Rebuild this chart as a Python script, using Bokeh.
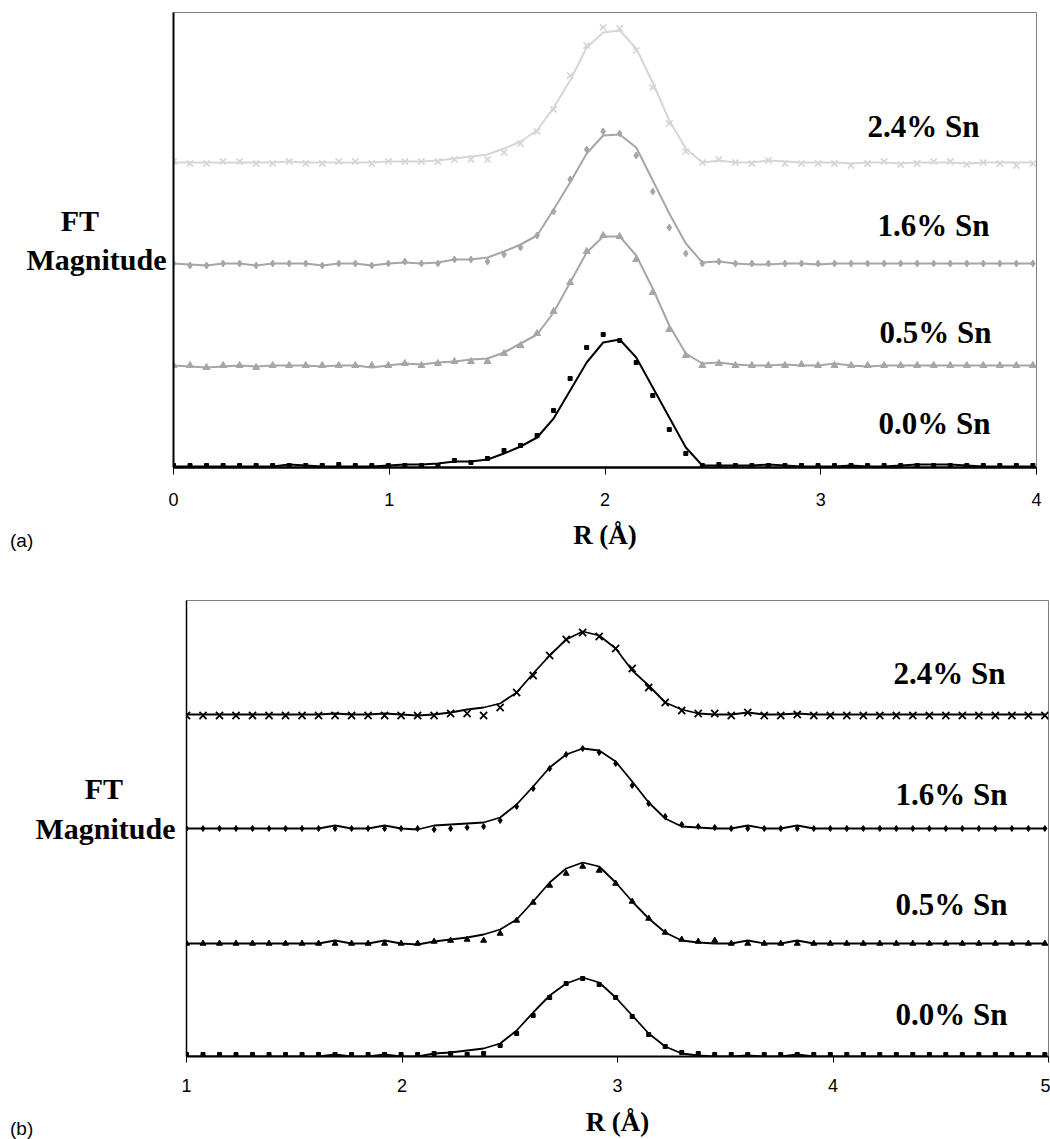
from bokeh.plotting import figure
from bokeh.models import Range1d, Label, Div
from bokeh.embed import file_html
from bokeh.resources import INLINE

# sample spacing (Å)
STEP = 0.0766
R_A = [round(STEP * i, 4) for i in range(53)]
R_B = [round(1 + STEP * i, 4) for i in range(53)]

SERIES_NAMES = ["0.0% Sn", "0.5% Sn", "1.6% Sn", "2.4% Sn"]
TICKS_A = [0, 1, 2, 3, 4]
TICKS_B = [1, 2, 3, 4, 5]

# ---------- panel (a): offset FT magnitudes (arbitrary units) ----------
A_00_PTS = [2, 2, 2, 2, 2, 2, 2, 2, 2, 2, 3, 2, 2, 2, 2, 2, 2,
            7, 5, 9, 17, 22, 32, 57, 89, 120, 133, 127, 105, 72, 38, 14, 2,
            3, 2, 2, 2, 2, 2, 2, 2, 2, 2, 2, 2, 2, 2, 2, 2, 2, 2, 2, 2]
A_00_FIT = [1, 1, 1, 1, 1, 1, 1, 3, 2, 1, 1, 1, 1, 2, 3, 3, 4,
            6, 6, 8, 14, 21, 30, 49, 77, 105, 125, 128, 110, 80, 50, 20, 2,
            2, 2, 2, 3, 2, 1, 1, 1, 2, 1, 1, 2, 3, 3, 3, 2, 1, 1, 1, 1]
A_05_PTS = [102, 102, 100, 102, 102, 100, 102, 102, 102, 102, 102, 102, 102, 102, 104, 102, 104,
            106, 106, 106, 114, 122, 134, 156, 185, 216, 232, 231, 208, 175, 138, 112, 102,
            104, 102, 102, 102, 102, 103, 102, 102, 102, 102, 102, 102, 102, 102, 102, 102, 102, 102, 102, 102]
A_05_FIT = [102, 101, 100, 101, 102, 101, 102, 102, 102, 101, 102, 102, 100, 102, 104, 103, 105,
            106, 108, 109, 115, 124, 133, 155, 185, 215, 231, 231, 212, 179, 142, 114, 104,
            105, 103, 102, 102, 103, 102, 102, 104, 102, 101, 102, 102, 102, 102, 102, 102, 102, 102, 102, 102]
A_16_PTS = [204, 202, 202, 204, 204, 202, 204, 204, 204, 202, 204, 204, 202, 204, 206, 204, 204,
            208, 208, 206, 213, 220, 232, 256, 288, 318, 336, 334, 312, 276, 240, 214, 204,
            206, 204, 204, 204, 204, 204, 204, 204, 204, 204, 204, 204, 204, 204, 204, 204, 204, 204, 204, 204]
A_16_FIT = [204, 203, 202, 204, 204, 202, 204, 204, 204, 202, 204, 204, 202, 204, 205, 204, 205,
            208, 208, 210, 216, 223, 232, 258, 285, 314, 332, 333, 320, 287, 254, 224, 205,
            206, 204, 203, 203, 204, 204, 203, 204, 204, 204, 204, 204, 204, 204, 204, 204, 204, 204, 204, 204]
A_24_PTS = [306, 304, 304, 306, 306, 304, 304, 306, 304, 304, 306, 306, 304, 306, 306, 306, 306,
            308, 308, 308, 315, 324, 336, 358, 392, 422, 440, 439, 417, 380, 344, 316, 305,
            308, 305, 304, 307, 304, 304, 304, 304, 302, 304, 306, 303, 304, 306, 306, 303, 305, 304, 302, 304]
A_24_FIT = [305, 305, 305, 305, 305, 305, 305, 306, 305, 305, 305, 305, 305, 306, 306, 306, 307,
            309, 311, 313, 319, 326, 337, 360, 387, 420, 435, 437, 419, 385, 347, 319, 305,
            307, 305, 305, 307, 306, 305, 305, 305, 304, 305, 305, 304, 305, 305, 305, 304, 305, 305, 305, 305]

# ---------- panel (b) ----------
B_00_PTS = [2, 2, 2, 2, 2, 2, 2, 2, 2, 2, 2, 2, 2, 2, 2,
            3, 3, 2,
            3, 11, 23, 41, 59, 73, 78, 72, 59, 40, 22, 10, 4, 3, 2,
            2, 2, 2, 2, 2, 2, 2, 2, 2, 2, 2, 2, 2, 2, 2, 2, 2, 2, 2, 2]
B_00_FIT = [0, 0, 0, 0, 0, 0, 0, 0, 0, 2, 0, 0, 2, 0, 0,
            3, 4, 6,
            8, 13, 26, 44, 61, 73, 79, 74, 59, 41, 23, 10, 3, 1, 0,
            0, 1, 0, 0, 2, 0, 0, 0, 0, 0, 0, 0, 0, 0, 0, 0, 0, 0, 0, 0]
B_05_PTS = [113, 113, 113, 113, 113, 113, 113, 113, 113, 113, 113, 113, 113, 113, 113,
            115, 116, 117,
            116, 123, 136, 154, 171, 183, 190, 186, 173, 155, 138, 124, 117, 115, 116,
            113, 113, 113, 113, 113, 113, 113, 113, 113, 113, 113, 113, 113, 113, 113, 113, 113, 113, 113, 113]
B_05_FIT = [113, 113, 113, 113, 113, 113, 113, 113, 113, 116, 113, 113, 116, 113, 112,
            115, 117, 119,
            122, 127, 137, 155, 174, 188, 194, 190, 174, 155, 138, 124, 116, 114, 113,
            113, 116, 113, 113, 116, 113, 113, 113, 113, 113, 113, 113, 113, 113, 113, 113, 113, 113, 113, 113]
B_16_PTS = [228, 228, 228, 228, 228, 228, 228, 228, 228, 228, 228, 228, 228, 228, 228,
            227, 228, 229,
            230, 236, 250, 268, 288, 302, 308, 304, 293, 271, 253, 240, 232, 230, 229,
            228, 228, 228, 228, 228, 228, 228, 228, 228, 228, 228, 228, 228, 228, 228, 228, 228, 228, 228, 228]
B_16_FIT = [228, 228, 228, 228, 228, 228, 228, 228, 228, 231, 228, 228, 231, 228, 227,
            231, 232, 233,
            234, 239, 252, 270, 289, 302, 308, 306, 295, 275, 254, 238, 230, 229, 228,
            228, 231, 228, 228, 231, 228, 228, 228, 228, 228, 228, 228, 228, 228, 228, 228, 228, 228, 228, 228]
B_24_PTS = [341, 341, 341, 341, 341, 341, 341, 341, 341, 341, 341, 341, 341, 341, 341,
            341, 343, 343,
            341, 349, 364, 381, 401, 417, 424, 420, 408, 388, 369, 354, 346, 343, 343,
            341, 344, 341, 341, 342, 341, 341, 341, 341, 341, 341, 341, 341, 341, 341, 341, 341, 341, 341, 341]
B_24_FIT = [342, 342, 342, 342, 342, 342, 342, 342, 342, 343, 342, 342, 343, 342, 341,
            342, 344, 347,
            349, 353, 364, 383, 401, 417, 425, 421, 408, 386, 371, 354, 347, 343, 342,
            342, 344, 342, 342, 343, 342, 342, 342, 342, 342, 342, 342, 342, 342, 342, 342, 342, 342, 342, 342]

SERIF = "Liberation Serif"
SANS = "Liberation Sans"
NB = "\u00a0"


def make_panel(xr, yr, ticks, height, bl, br, bt, bb, left_w, bottom_w,
               standoff, tick_out, xlabel_standoff, ylabel_standoff, ylabel):
    p = figure(width=1050, height=height, x_range=Range1d(*xr), y_range=Range1d(*yr),
               output_backend="svg", toolbar_location=None,
               min_border_left=bl, min_border_right=br, min_border_top=bt, min_border_bottom=bb,
               background_fill_color="white", border_fill_color="white")
    p.xgrid.visible = False
    p.ygrid.visible = False
    p.outline_line_color = "#808080"
    p.outline_line_width = 1
    xa = p.xaxis[0]
    xa.ticker = ticks
    xa.major_label_text_font = SANS
    xa.major_label_text_font_size = "18px"
    xa.major_label_text_color = "black"
    xa.major_tick_out = tick_out
    xa.major_tick_in = 0
    xa.major_tick_line_color = "black"
    xa.major_tick_line_width = 1
    xa.minor_tick_line_color = None
    xa.axis_line_color = "black"
    xa.axis_line_width = bottom_w
    xa.major_label_standoff = standoff
    xa.axis_label = "R (Å)"
    xa.axis_label_text_font = SERIF
    xa.axis_label_text_font_style = "bold"
    xa.axis_label_text_font_size = "27px"
    xa.axis_label_text_color = "black"
    xa.axis_label_standoff = xlabel_standoff
    ya = p.yaxis[0]
    ya.ticker = []
    ya.minor_tick_line_color = None
    ya.major_tick_line_color = None
    ya.major_label_text_font_size = "0px"
    ya.axis_line_color = "black"
    ya.axis_line_width = left_w
    ya.axis_label = ylabel
    ya.axis_label_orientation = "horizontal"
    ya.axis_label_text_font = SERIF
    ya.axis_label_text_font_style = "bold"
    ya.axis_label_text_font_size = "30px"
    ya.axis_label_text_color = "black"
    ya.axis_label_standoff = ylabel_standoff
    return p


def lbl(p, x, y, text, size):
    p.add_layout(Label(x=x, y=y, text=text, text_font=SERIF, text_font_size=size,
                       text_font_style="bold", text_align="center", text_baseline="middle",
                       text_color="black"))


def panel_tag(text, left, top):
    # small "(a)" / "(b)" tags that sit outside the plot frames
    return Div(text='<span style="font-family: \'Liberation Sans\', Arial, sans-serif; '
                    'font-size: 19px; line-height: 16px; color: black; white-space: nowrap;">'
                    + text + '</span>',
               margin=(0, 0, 0, 0),
               styles={"position": "absolute", "left": f"{left}px", "top": f"{top}px",
                       "line-height": "16px", "margin": "0px", "padding": "0px"})


# ----- panel (a) -----
pa = make_panel((0, 4), (0, 455), TICKS_A, 570, 173, 14, 12, 103, 2, 2.5, 18, 7, 11, 7,
                "FT" + NB * 9 + "\nMagnitude")
styles_a = [
    (A_00_PTS, A_00_FIT, "black", "square", 4, 2),
    (A_05_PTS, A_05_FIT, "#a6a6a6", "triangle", 7, 2),
    (A_16_PTS, A_16_FIT, "#a6a6a6", "diamond", 7, 2),
    (A_24_PTS, A_24_FIT, "#d6d6d6", "x", 9, 2),
]
for pts, fit, col, mk, sz, lw in styles_a:
    pa.line(R_A, fit, line_color=col, line_width=lw)
    if mk == "x":
        pa.scatter(R_A, pts, marker=mk, size=sz, line_color=col, line_width=1.6)
    else:
        pa.scatter(R_A, pts, marker=mk, size=sz, fill_color=col, line_color=col)

for name, (xx, yy) in zip(SERIES_NAMES, [(3.527, 44), (3.532, 135), (3.523, 242), (3.476, 341)]):
    lbl(pa, xx, yy, name, "31px")

# ----- panel (b) -----
pb = make_panel((1, 5), (0, 456), TICKS_B, 569, 186, 2, 30, 83, 1.5, 2, 16, 6, 12, 11,
                "FT" + NB * 7 + "\nMagnitude\n" + NB)
styles_b = [
    (B_00_PTS, B_00_FIT, "square", 4),
    (B_05_PTS, B_05_FIT, "triangle", 6),
    (B_16_PTS, B_16_FIT, "diamond", 6),
    (B_24_PTS, B_24_FIT, "x", 10),
]
for pts, fit, mk, sz in styles_b:
    pb.line(R_B, fit, line_color="black", line_width=1.8)
    if mk == "x":
        pb.scatter(R_B, pts, marker=mk, size=sz, line_color="black", line_width=1.8)
    else:
        pb.scatter(R_B, pts, marker=mk, size=sz, fill_color="black", line_color="black")

for name, (xx, yy) in zip(SERIES_NAMES, [(4.55, 42), (4.55, 152), (4.55, 262), (4.541, 383)]):
    lbl(pb, xx, yy, name, "31px")

tag_a = panel_tag("(a)", 10, 533)
tag_b = panel_tag("(b)", 10, 1121)

open("out.html", "w").write(file_html([pa, tag_a, pb, tag_b], INLINE))
